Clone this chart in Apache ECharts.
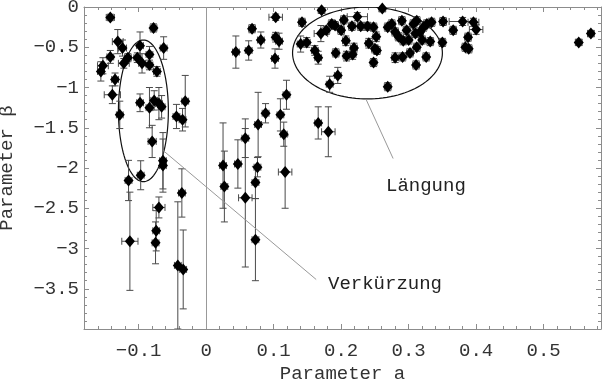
<!DOCTYPE html>
<html>
<head>
<meta charset="utf-8">
<script src="https://cdn.jsdelivr.net/npm/echarts@6/dist/echarts.min.js"></script>
<style>
html,body{margin:0;padding:0;background:#fff;}
#chart{width:608px;height:380px;}
</style>
</head>
<body>
<div id="chart"></div>
<script>
// ---- data ----
const xValues = [
 -0.142,-0.078,-0.131,-0.124,-0.098,-0.063,-0.142,-0.116,-0.102,-0.084,
 -0.122,-0.095,-0.084,-0.153,-0.156,-0.073,-0.135,-0.139,-0.098,-0.031,
 -0.077,-0.084,-0.070,-0.066,-0.128,-0.044,-0.035,-0.080,-0.064,-0.064,
 -0.115,-0.097,-0.113,-0.070,-0.074,-0.075,-0.036,-0.042,-0.034,
 0.103,0.142,0.068,0.081,0.103,0.108,0.044,0.063,0.102,0.140,
 0.119,0.088,0.110,0.077,0.058,0.115,0.025,0.027,0.047,0.076,
 0.073,0.058,0.073,0.117,0.166,0.181,
 0.171,0.261,0.149,0.170,0.178,0.186,0.191,0.200,0.204,0.224,
 0.216,0.229,0.239,0.248,0.252,0.241,0.250,0.253,0.248,0.207,
 0.219,0.217,0.208,0.192,0.161,0.166,0.195,0.183,0.269,0.269,
 0.275,0.280,0.285,0.290,0.292,0.280,0.291,0.297,0.307,0.312,
 0.310,0.317,0.322,0.327,0.334,0.300,0.320,0.332,0.312,0.351,
 0.350,0.366,0.380,0.396,0.400,0.388,0.384,0.389,0.302,0.311,
 0.326,0.552,0.570
];
const yValues = [
 -0.13,-0.26,-0.43,-0.51,-0.48,-0.51,-0.62,-0.63,-0.63,-0.59,
 -0.70,-0.70,-0.72,-0.73,-0.80,-0.80,-0.90,-1.09,-1.19,-1.17,
 -1.16,-1.25,-1.20,-1.24,-1.34,-1.36,-1.40,-1.67,-1.91,-1.97,
 -2.155,-2.09,-2.91,-2.49,-2.78,-2.93,-2.31,-3.21,-3.26,
 -0.127,-0.19,-0.27,-0.41,-0.375,-0.425,-0.56,-0.54,-0.64,-0.46,
 -1.09,-1.32,-1.34,-1.46,-1.63,-1.58,-1.97,-2.23,-1.95,-1.99,
 -2.18,-2.37,-2.89,-2.05,-1.44,-1.55,
 -0.04,-0.02,-0.44,-0.33,-0.29,-0.21,-0.23,-0.29,-0.16,-0.12,
 -0.24,-0.24,-0.24,-0.25,-0.37,-0.45,-0.52,-0.54,-0.69,-0.42,
 -0.51,-0.59,-0.61,-0.57,-0.54,-0.63,-0.85,-0.96,-0.99,-0.25,
 -0.21,-0.31,-0.37,-0.17,-0.42,-0.63,-0.62,-0.29,-0.21,-0.17,
 -0.33,-0.31,-0.25,-0.21,-0.19,-0.41,-0.41,-0.43,-0.50,-0.18,
 -0.44,-0.29,-0.18,-0.19,-0.28,-0.375,-0.50,-0.52,-0.57,-0.72,
 -0.62,-0.44,-0.33
];
const xErrors = [
 0.006,0.005,0.008,0.006,0.005,0.005,0.005,0.005,0.005,0.005,
 0.008,0.005,0.005,0.008,0.005,0.005,0.005,0.012,0.005,0.005,
 0.005,0.005,0.005,0.005,0.005,0.005,0.005,0.006,0.005,0.005,
 0.005,0.005,0.012,0.009,0.005,0.005,0.005,0.005,0.005,
 0.010,0.005,0.005,0.005,0.005,0.005,0.005,0.005,0.005,0.005,
 0.005,0.005,0.005,0.005,0.005,0.005,0.005,0.005,0.005,0.005,
 0.005,0.010,0.005,0.010,0.005,0.010,
 0.005,0.005,0.005,0.010,0.005,0.005,0.005,0.005,0.005,0.015,
 0.005,0.005,0.005,0.005,0.005,0.005,0.005,0.005,0.005,0.005,
 0.005,0.005,0.005,0.005,0.005,0.005,0.005,0.005,0.005,0.005,
 0.005,0.005,0.005,0.005,0.005,0.005,0.005,0.005,0.005,0.005,
 0.005,0.005,0.005,0.005,0.005,0.005,0.005,0.005,0.005,0.005,
 0.005,0.005,0.020,0.008,0.010,0.005,0.005,0.005,0.005,0.005,
 0.005,0.005,0.005
];
const yErrors = [
 0.04,0.05,0.15,0.10,0.17,0.14,0.08,0.05,0.06,0.10,
 0.06,0.12,0.06,0.10,0.12,0.06,0.08,0.11,0.11,0.32,
 0.12,0.25,0.20,0.14,0.17,0.15,0.14,0.20,0.35,0.33,
 0.25,0.18,0.61,0.13,0.25,0.26,0.30,0.79,0.49,
 0.04,0.05,0.05,0.10,0.06,0.10,0.20,0.12,0.12,0.10,
 0.18,0.12,0.20,0.40,0.24,0.15,0.53,0.44,0.30,0.12,
 0.20,0.86,0.51,0.45,0.20,0.31,
 0.04,0.04,0.06,0.10,0.05,0.05,0.05,0.05,0.05,0.05,
 0.05,0.05,0.05,0.05,0.06,0.06,0.05,0.05,0.05,0.06,
 0.06,0.06,0.06,0.05,0.06,0.08,0.10,0.10,0.05,0.05,
 0.05,0.05,0.05,0.05,0.05,0.06,0.05,0.05,0.05,0.05,
 0.05,0.05,0.05,0.05,0.05,0.05,0.05,0.05,0.05,0.05,
 0.05,0.05,0.05,0.05,0.06,0.05,0.05,0.05,0.05,0.05,
 0.05,0.04,0.04
];
const xMajorTicks = [-0.1, 0, 0.1, 0.2, 0.3, 0.4, 0.5];
const yMajorTicks = [0, -0.5, -1, -1.5, -2, -2.5, -3, -3.5];
const xAxisTitle = 'Parameter a';
const yAxisTitle = 'Parameter \u03b2';
const labelLong = 'L\u00e4ngung';
const labelShort = 'Verk\u00fcrzung';

// ---- annotation geometry (data coordinates) ----
const ellipses = [
  {cx: -0.093, cy: -1.29, rx: 0.037, ry: 0.88},
  {cx: 0.239, cy: -0.571, rx: 0.111, ry: 0.571}
];
const leaderLines = [
  [[-0.0637, -1.783], [0.163, -3.385]],
  [[0.237, -1.149], [0.277, -1.882]]
];

const xMin = -0.181, xMax = 0.585, yMin = -4.0, yMax = 0;
const xMinorTicks = [], yMinorTicks = [];
for (let i = -9; i <= 29; i++) xMinorTicks.push(Math.round(i * 2) / 100);
for (let i = 0; i <= 40; i++) yMinorTicks.push(-i / 10);

const FONT = '"Liberation Mono", "Courier New", monospace';
const FRAME = '#8c8c8c';
const fmt = v => {
  if (Math.abs(v) < 1e-9) return '0';
  const s = String(Math.round(Math.abs(v) * 10) / 10);
  return (v < 0 ? '\u2212' : '') + s;
};

function xAx(pos, ticks, len, line, labels) {
  return {
    type: 'value', position: pos, min: xMin, max: xMax,
    axisLine: {show: line, onZero: false, lineStyle: {color: FRAME, width: 1}},
    axisTick: {show: true, inside: true, length: len, customValues: ticks, lineStyle: {color: FRAME}},
    axisLabel: labels ? {show: true, customValues: xMajorTicks, formatter: fmt,
      fontFamily: FONT, fontSize: 19, color: '#333', margin: 12} : {show: false},
    splitLine: {show: false},
    name: labels ? xAxisTitle : '',
    nameLocation: 'middle', nameGap: 35,
    nameTextStyle: {fontFamily: FONT, fontSize: 19, color: '#333'}
  };
}
function yAx(pos, ticks, len, line, labels) {
  return {
    type: 'value', position: pos, min: yMin, max: yMax,
    axisLine: {show: line, onZero: false, lineStyle: {color: FRAME, width: 1}},
    axisTick: {show: true, inside: true, length: len, customValues: ticks, lineStyle: {color: FRAME}},
    axisLabel: labels ? {show: true, customValues: yMajorTicks, formatter: fmt,
      fontFamily: FONT, fontSize: 19, color: '#333', margin: 5} : {show: false},
    splitLine: {show: false},
    name: labels ? yAxisTitle : '',
    nameLocation: 'middle', nameGap: 68, nameRotate: 90,
    nameTextStyle: {fontFamily: FONT, fontSize: 19, color: '#333'}
  };
}

const points = xValues.map((x, i) => [x, yValues[i], xErrors[i], yErrors[i]]);

const chart = echarts.init(document.getElementById('chart'), null, {renderer: 'canvas'});
chart.setOption({
  animation: false,
  backgroundColor: '#fff',
  grid: {left: 84, right: 7, top: 7, bottom: 51, containLabel: false, outerBoundsMode: 'none'},
  xAxis: [
    xAx('bottom', xMajorTicks, 5, true, true),
    xAx('bottom', xMinorTicks, 3, false, false),
    xAx('top', xMajorTicks, 5, true, false),
    xAx('top', xMinorTicks, 3, false, false)
  ],
  yAxis: [
    yAx('left', yMajorTicks, 5, true, true),
    yAx('left', yMinorTicks, 3, false, false),
    yAx('right', yMajorTicks, 5, true, false),
    yAx('right', yMinorTicks, 3, false, false)
  ],
  series: [
    {
      type: 'custom', name: 'annotations', xAxisIndex: 0, yAxisIndex: 0, z: 1,
      silent: true, clip: true,
      data: ellipses.map(e => [e.cx, e.cy, e.rx, e.ry]),
      renderItem: function (params, api) {
        const c = api.coord([api.value(0), api.value(1)]);
        const s = api.size([api.value(2), api.value(3)]);
        const pts = [];
        for (let k = 0; k <= 120; k++) {
          const t = k / 120 * Math.PI * 2;
          pts.push([c[0] + s[0] * Math.cos(t), c[1] + s[1] * Math.sin(t)]);
        }
        return {type: 'polyline', shape: {points: pts},
          style: {fill: null, stroke: '#111', lineWidth: 1.2}};
      },
      markLine: {
        silent: true, symbol: ['none', 'none'], label: {show: false},
        lineStyle: {color: '#999', width: 1, type: 'solid'},
        data: [
          [{xAxis: 0, yAxis: yMax}, {xAxis: 0, yAxis: yMin}],
          [{coord: leaderLines[0][0]}, {coord: leaderLines[0][1]}],
          [{coord: leaderLines[1][0]}, {coord: leaderLines[1][1]}]
        ]
      }
    },
    {
      type: 'custom', name: 'errors', xAxisIndex: 0, yAxisIndex: 0, z: 2,
      silent: true, clip: true,
      data: points,
      renderItem: function (params, api) {
        const x = api.value(0), y = api.value(1), ex = api.value(2), ey = api.value(3);
        const top = api.coord([x, y + ey]);
        const bot = api.coord([x, y - ey]);
        const lef = api.coord([x - ex, y]);
        const rig = api.coord([x + ex, y]);
        const cap = 3.5;
        const st = {stroke: '#4a4a4a', lineWidth: 1};
        return {type: 'group', children: [
          {type: 'line', shape: {x1: top[0], y1: top[1], x2: bot[0], y2: bot[1]}, style: st},
          {type: 'line', shape: {x1: top[0] - cap, y1: top[1], x2: top[0] + cap, y2: top[1]}, style: st},
          {type: 'line', shape: {x1: bot[0] - cap, y1: bot[1], x2: bot[0] + cap, y2: bot[1]}, style: st},
          {type: 'line', shape: {x1: lef[0], y1: lef[1], x2: rig[0], y2: rig[1]}, style: st},
          {type: 'line', shape: {x1: lef[0], y1: lef[1] - cap, x2: lef[0], y2: lef[1] + cap}, style: st},
          {type: 'line', shape: {x1: rig[0], y1: rig[1] - cap, x2: rig[0], y2: rig[1] + cap}, style: st}
        ]};
      }
    },
    {
      type: 'scatter', name: 'points', xAxisIndex: 0, yAxisIndex: 0, z: 3,
      symbol: 'diamond', symbolSize: [10, 12],
      itemStyle: {color: '#000', opacity: 1},
      data: points.map(p => [p[0], p[1]])
    }
  ],
  graphic: [
    {type: 'text', left: 386, top: 176, z: 10,
      style: {text: labelLong, font: '19px "Liberation Mono", monospace', fill: '#222'}},
    {type: 'text', left: 328, top: 274, z: 10,
      style: {text: labelShort, font: '19px "Liberation Mono", monospace', fill: '#222'}}
  ]
});
</script>
</body>
</html>
